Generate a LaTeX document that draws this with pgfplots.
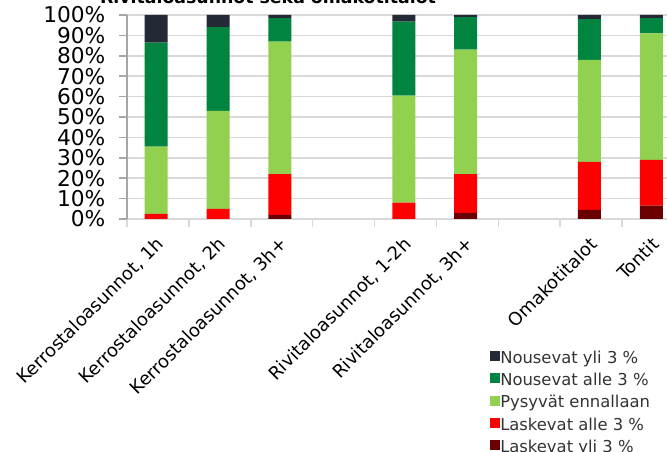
\documentclass[border=0pt]{standalone}
\usepackage{fontspec}
\setmainfont{DejaVu Sans}
\usepackage{pgfplots}
\pgfplotsset{compat=1.18}

\definecolor{nyli}{HTML}{232A35}
\definecolor{nalle}{HTML}{00843F}
\definecolor{pysy}{HTML}{92D050}
\definecolor{lalle}{HTML}{FF0000}
\definecolor{lyli}{HTML}{6B0000}
\definecolor{gridc}{HTML}{D9D9D9}
\definecolor{axisc}{HTML}{A6A6A6}

\begin{document}
\begin{tikzpicture}
\begin{axis}[
    scale only axis,
    width=417.75pt, height=153pt,
    ybar stacked, bar width=17.25pt, bar shift=-1.3pt,
    xmin=-0.5, xmax=8.5, ymin=0, ymax=100,
    axis x line*=bottom, axis y line*=left,
    x axis line style={draw=gridc, line width=1.1pt},
    y axis line style={draw=axisc, line width=1.1pt},
    tick align=outside,
    major tick length=6pt,
    minor tick length=6pt,
    ytick={0,10,...,100},
    yticklabel={\pgfmathprintnumber{\tick}\%},
    /pgf/number format/assume math mode=true,
    ytick style={draw=axisc, line width=1.1pt},
    yticklabel style={font=\fontsize{16.3}{18}\selectfont, inner sep=0pt, xshift=-10pt},
    ymajorgrids, grid style={draw=gridc, line width=1.1pt},
    xtick={0,1,2,4,5,7,8},
    xticklabels={Kerrostaloasunnot{,} 1h, Kerrostaloasunnot{,} 2h, Kerrostaloasunnot{,} 3h+,
        Rivitaloasunnot{,} 1-2h, Rivitaloasunnot{,} 3h+, Omakotitalot, Tontit},
    xtick style={draw=none},
    minor xtick={-0.5,0.5,...,8.5},
    minor x tick style={draw=gridc, line width=1.1pt},
    xticklabel style={font=\fontsize{13.5}{15}\selectfont, inner sep=0pt, xshift=2pt, yshift=-10.5pt, rotate=45, anchor=east},
    legend style={at={(0.6445,-0.632)}, anchor=north west, draw=none, fill=none,
        font=\fontsize{12.3}{14}\selectfont, text=black!80,
        nodes={inner sep=0pt, text height=9pt, text depth=2.5pt},
        row sep=5pt,
        /tikz/every even column/.append style={column sep=3.75pt}},
    legend cell align=left,
    reverse legend,
    legend image code/.code={\fill[#1] (0pt,-1.5pt) rectangle (7.5pt,6pt);},
]
\addplot[fill=lyli, draw=none] coordinates {(0,0) (1,0) (2,2) (4,0) (5,3) (7,4.5) (8,6.5)};
\addplot[fill=lalle, draw=none] coordinates {(0,2.5) (1,5) (2,20) (4,8) (5,19) (7,23.5) (8,22.5)};
\addplot[fill=pysy, draw=none] coordinates {(0,33) (1,48) (2,65) (4,52.5) (5,61) (7,50) (8,62)};
\addplot[fill=nalle, draw=none] coordinates {(0,51) (1,41) (2,11.5) (4,36.2) (5,16) (7,20) (8,7.5)};
\addplot[fill=nyli, draw=none] coordinates {(0,13.5) (1,6) (2,1.5) (4,3.3) (5,1) (7,2) (8,1.5)};
\legend{Laskevat yli 3 \%, Laskevat alle 3 \%, Pysyvät ennallaan, Nousevat alle 3 \%, Nousevat yli 3 \%}
\end{axis}
\node[anchor=base, font=\fontsize{13}{15}\selectfont\bfseries] at (105.75pt,161.25pt) {Rivitaloasunnot sekä omakotitalot};
\pgfresetboundingbox
\useasboundingbox (-95.25pt,-174.75pt) rectangle (405pt,164.25pt);
\end{tikzpicture}
\end{document}
